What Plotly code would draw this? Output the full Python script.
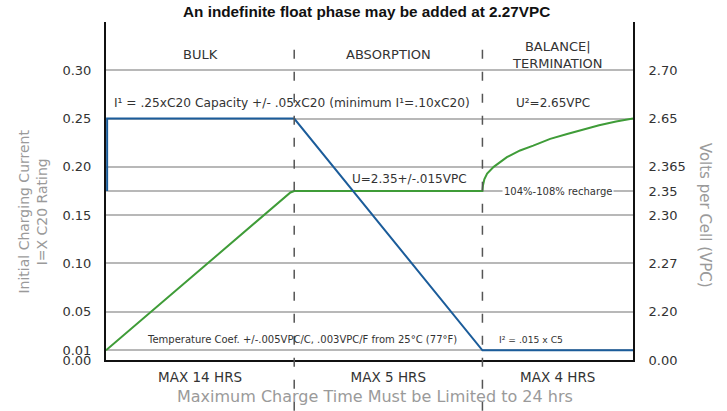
import plotly.graph_objects as go

# ---- data ----
phase_names = ["BULK", "ABSORPTION", "BALANCE|<br>TERMINATION"]
phase_limits = ["MAX 14 HRS", "MAX 5 HRS", "MAX 4 HRS"]
phase_mids = [0.5, 1.5, 2.4]
phase_edges = [1.0, 2.0]

current_x = [0.006, 0.006, 1.0, 2.0, 2.8]
current_y = [0.175, 0.25, 0.25, 0.01, 0.01]

volt_x = [0.0, 0.98, 1.0, 1.02, 2.0, 2.003, 2.01, 2.025, 2.06, 2.13, 2.2, 2.27, 2.36, 2.45, 2.54, 2.62, 2.71, 2.8]
volt_y = [0.01, 0.1735, 0.175, 0.175, 0.175, 0.181, 0.187, 0.193, 0.200, 0.210, 0.217, 0.222, 0.229, 0.234, 0.239, 0.243, 0.247, 0.25]

left_ticks = [0.0, 0.01, 0.05, 0.10, 0.15, 0.20, 0.25, 0.30]
left_labels = ["0.00", "0.01", "0.05", "0.10", "0.15", "0.20", "0.25", "0.30"]
right_ticks = [0.0, 0.05, 0.10, 0.15, 0.175, 0.20, 0.25, 0.30]
right_labels = ["0.00", "2.20", "2.27", "2.30", "2.35", "2.365", "2.65", "2.70"]

FONT = "DejaVu Sans"
TXT = "#333333"
GRID = "#b8b8b8"

fig = go.Figure()
fig.add_trace(go.Scatter(x=volt_x, y=volt_y, mode="lines",
                         line=dict(color="#3f9c38", width=2), hoverinfo="skip",
                         showlegend=False))
fig.add_trace(go.Scatter(x=current_x, y=current_y, mode="lines",
                         line=dict(color="#1b5c9a", width=2), hoverinfo="skip",
                         showlegend=False))
# invisible trace for right axis
fig.add_trace(go.Scatter(x=[0], y=[0], yaxis="y2", mode="markers",
                         marker=dict(opacity=0), hoverinfo="skip", showlegend=False))

shapes = []
for e in phase_edges:
    shapes.append(dict(type="line", xref="x", yref="paper", x0=e, x1=e,
                       y0=-0.15, y1=0.94, layer="above",
                       line=dict(color="#555555", width=1.5, dash="9px,13px")))

ann = []
def A(text, x, y, size=12, xref="x", yref="y", xanchor="center", yanchor="middle",
      color=TXT, angle=0, bg=None, family=FONT):
    d = dict(text=text, x=x, y=y, xref=xref, yref=yref, xanchor=xanchor,
             yanchor=yanchor, showarrow=False, textangle=angle,
             font=dict(family=family, size=size, color=color))
    if bg:
        d["bgcolor"] = bg
    ann.append(d)

A("<b>An indefinite float phase may be added at 2.27VPC</b>", 0.495, 1.0296,
  size=15.3, xref="paper", yref="paper", color="#111111", family="Liberation Sans")
for name, m in zip(phase_names, phase_mids):
    A(name, m, 0.316, size=13)
A("I¹ = .25xC20 Capacity +/- .05xC20 (minimum I¹=.10xC20)", 0.03, 0.266,
  size=12.2, xanchor="left")
A("U²=2.65VPC", 2.375, 0.266, size=12)
A("U=2.35+/-.015VPC", 1.615, 0.187, size=12)
A("104%-108% recharge", 2.40, 0.175, size=10, bg="white")
A("Temperature Coef. +/-.005VPC/C, .003VPC/F from 25°C (77°F)", 1.04, 0.0217, size=10)
A("I² = .015 x C5", 2.078, 0.0217, size=9.2, xanchor="left")
A("Initial Charging Current<br>I=X C20 Rating", -0.138, 0.44, size=14,
  xref="paper", yref="paper", color="#9a9a9a", angle=-90)
A("Volts per Cell (VPC)", 1.137, 0.429, size=15, xref="paper", yref="paper",
  color="#9a9a9a", angle=90)
A("Maximum Charge Time Must be Limited to 24 hrs", 0.51, -0.109, size=16,
  xref="paper", yref="paper", color="#9a9a9a")

fig.update_layout(
    width=727, height=411,
    margin=dict(l=106, r=94, t=22, b=51),
    paper_bgcolor="white", plot_bgcolor="white",
    font=dict(family=FONT, size=13, color=TXT),
    xaxis=dict(range=[0, 2.8], showgrid=False, zeroline=False,
               showline=True, linecolor="#111111", linewidth=2,
               tickvals=phase_mids, ticktext=phase_limits,
               ticks="outside", ticklen=4, tickcolor="rgba(0,0,0,0)",
               tickfont=dict(size=13.5, color=TXT)),
    yaxis=dict(range=[0, 0.35], showgrid=True, gridcolor=GRID, gridwidth=2,
               zeroline=False, showline=True, linecolor="#111111", linewidth=2,
               tickvals=left_ticks, ticktext=left_labels,
               ticks="outside", ticklen=10, tickcolor="rgba(0,0,0,0)",
               tickfont=dict(size=13, color=TXT)),
    yaxis2=dict(range=[0, 0.35], overlaying="y", side="right", showgrid=True,
                gridcolor=GRID, gridwidth=2, zeroline=False, showline=True,
                linecolor="#111111", linewidth=2,
                tickvals=right_ticks, ticktext=right_labels,
                ticks="outside", ticklen=11, tickcolor="rgba(0,0,0,0)",
                tickfont=dict(size=13, color=TXT)),
    shapes=shapes, annotations=ann, showlegend=False,
)
# remove the default 8px page margin so the figure sits at the window's top-left corner
fig.write_html("out.html", config={"displayModeBar": False},
               post_script="document.body.style.margin='0';document.body.style.overflow='hidden';")
